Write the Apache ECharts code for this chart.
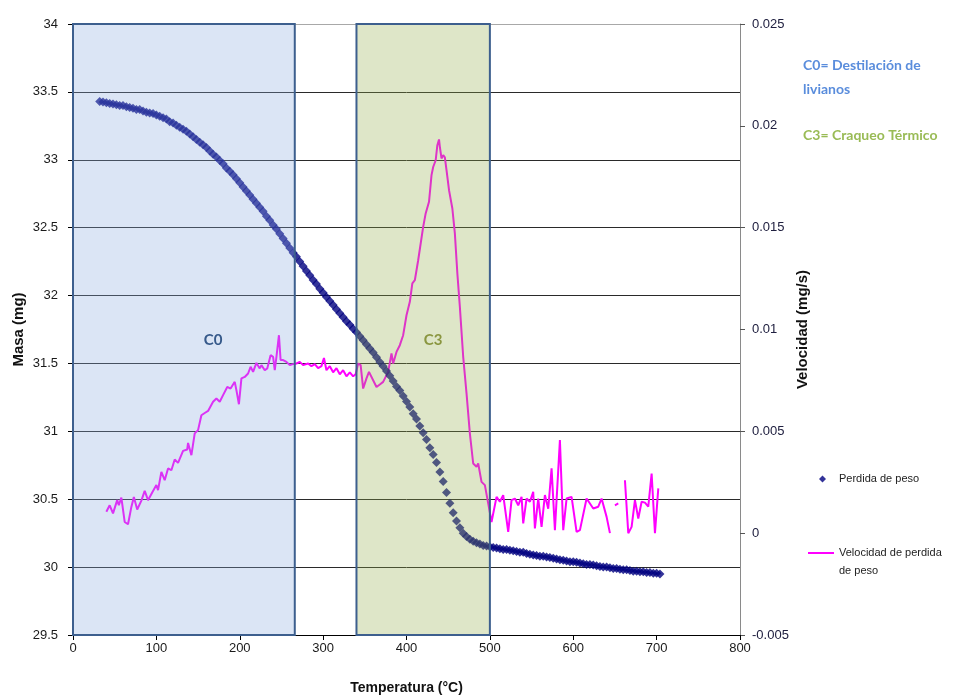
<!DOCTYPE html>
<html>
<head>
<meta charset="utf-8">
<script src="https://cdn.jsdelivr.net/npm/echarts@6/dist/echarts.min.js"></script>
<style>html,body{margin:0;padding:0;background:#fff;}#c{width:954px;height:696px;}</style>
</head>
<body>
<div id="c"></div>
<script>
// ---- Data ----
const xTicks = [0, 100, 200, 300, 400, 500, 600, 700, 800];
const massLabel = 'Perdida de peso';
const velLabel = 'Velocidad de perdida de peso';

// Mass (mg) vs temperature (°C)
const massT = [32,36,40,44,48,52,56,60,64,68,72,76,80,84,88,92,96,100,104,108,112,116,120,124,128,132,136,140,144,148,152,156,160,164,168,172,176,180,184,188,192,196,200,204,208,212,216,220,224,228,232,236,240,244,248,252,256,260,264,268,272,276,280,284,288,292,296,300,304,308,312,316,320,324,328,332,336,340,344,348,352,356,360,364,368,372,376,380,384,388,392,396,400,404,408,412,416,420,424,428,432,436,440,444,448,452,456,460,464,468,472,476,480,484,488,492,496,500,504,508,512,516,520,524,528,532,536,540,544,548,552,556,560,564,568,572,576,580,584,588,592,596,600,604,608,612,616,620,624,628,632,636,640,644,648,652,656,660,664,668,672,676,680,684,688,692,696,700,704];
const massV = [33.43,33.425,33.42,33.415,33.41,33.405,33.40,33.40,33.39,33.385,33.38,33.37,33.37,33.36,33.35,33.345,33.34,33.33,33.32,33.31,33.30,33.28,33.27,33.255,33.24,33.225,33.21,33.19,33.17,33.15,33.13,33.11,33.09,33.065,33.04,33.02,32.995,32.97,32.94,32.915,32.89,32.86,32.83,32.80,32.77,32.74,32.71,32.68,32.65,32.62,32.585,32.555,32.52,32.49,32.455,32.42,32.385,32.35,32.315,32.285,32.25,32.215,32.18,32.15,32.115,32.085,32.05,32.02,31.99,31.96,31.93,31.90,31.87,31.84,31.81,31.785,31.755,31.73,31.70,31.67,31.64,31.61,31.58,31.545,31.51,31.48,31.445,31.41,31.37,31.33,31.30,31.26,31.22,31.18,31.13,31.09,31.04,30.99,30.94,30.88,30.83,30.77,30.70,30.63,30.55,30.47,30.40,30.34,30.29,30.25,30.225,30.205,30.19,30.18,30.17,30.16,30.155,30.15,30.145,30.14,30.135,30.13,30.13,30.125,30.12,30.115,30.11,30.11,30.10,30.095,30.09,30.085,30.08,30.08,30.075,30.07,30.065,30.06,30.055,30.05,30.045,30.04,30.04,30.035,30.03,30.025,30.02,30.02,30.015,30.01,30.005,30.00,30.00,29.995,29.99,29.99,29.985,29.98,29.98,29.975,29.97,29.97,29.965,29.965,29.96,29.96,29.955,29.955,29.95];

// Rate of mass loss (mg/s) vs temperature (°C); null = gap
const velT = [40,44,48,53,55,58,62,66,70,73,77,82,86,90,95,100,102,106,110,114,118,122,126,132,137,138,142,146,150,154,158,162,168,172,176,180,185,189,194,196,199,202,206,210,213,216,220,224,226,230,233,237,240,242,244,247,249,252,256,260,264,268,272,276,282,286,290,294,298,301,304,308,312,316,320,324,328,332,336,339,342,345,348,352,355,360,364,368,372,378,382,384,388,392,396,400,404,407,410,414,420,423,427,430,432,435,437,439,440,442,444,446,448,451,455,458,461,464,468,472,476,480,484,486,490,494,498,502,504,508,512,516,522,526,530,534,538,540,544,548,552,554,558,562,566,570,574,578,584,588,592,598,604,608,616,624,630,634,640,644,646,650,654,656,662,666,670,674,678,682,686,690,694,698,702];
const velV = [0.00105,0.00137,0.00097,0.00162,0.00137,0.00175,0.00055,0.00044,0.00129,0.00178,0.00116,0.0016,0.00208,0.00162,0.0020,0.00236,0.00211,0.00301,0.0026,0.00318,0.00309,0.00362,0.00345,0.00404,0.00411,0.00443,0.00383,0.0049,0.00506,0.00579,0.0059,0.0060,0.00645,0.00661,0.00645,0.00678,0.00718,0.0071,0.00743,0.00702,0.00633,0.0076,0.00767,0.00784,0.00817,0.00792,0.00836,0.00809,0.00825,0.0080,0.00809,0.00874,0.00866,0.0080,0.00866,0.00972,0.0085,0.0085,0.00841,0.00825,0.0083,0.00833,0.00841,0.00825,0.00833,0.0082,0.0083,0.0081,0.0082,0.0086,0.0080,0.0082,0.0079,0.0081,0.0078,0.0080,0.0077,0.0079,0.0077,0.0078,0.00833,0.00825,0.0071,0.0076,0.00792,0.00751,0.00718,0.0073,0.00743,0.00792,0.00882,0.00833,0.0089,0.00923,0.00972,0.0107,0.01136,0.01226,0.01242,0.0134,0.01504,0.0157,0.01627,0.01758,0.01798,0.01831,0.01905,0.01933,0.01897,0.0184,0.01856,0.01845,0.01782,0.01684,0.01594,0.01472,0.01275,0.01111,0.00866,0.00686,0.0049,0.00342,0.00326,0.00342,0.00252,0.00236,0.00146,0.00055,0.00048,0.00178,0.00154,0.00187,0.00006,0.00162,0.0017,0.00137,0.00178,0.00048,0.0017,0.00154,0.00203,0.00023,0.0017,0.00031,0.00187,0.0012,0.00318,0.00015,0.00457,0.00015,0.0017,0.00178,0.00006,0.00015,0.0017,0.00121,0.0013,0.0017,0.0008,0.0,null,0.00137,0.00146,null,0.0026,0.0,0.00031,0.00162,0.00072,0.00154,0.0015,0.0013,0.00293,0.0,0.0022];

// Shaded stage regions (°C)
const stages = [
  {name: 'C0', from: 0, to: 266, labelT: 168, fill: 'rgba(135,168,222,0.3)', labelColor: '#36598a'},
  {name: 'C3', from: 340, to: 500, labelT: 432, fill: 'rgba(145,172,72,0.3)', labelColor: '#8a9640'}
];
const stageLabelMass = 31.67;

// ---- Chart ----
const chart = echarts.init(document.getElementById('c'), null, {renderer: 'canvas'});
const baseFont = 'Liberation Sans, Arial, sans-serif';

const massData = massT.map((t, i) => [t, massV[i]]);
const velData = velT.map((t, i) => [t, velV[i]]);

const splitColors = [];
for (let i = 0; i < 9; i++) splitColors.push('#2a2a2a');
splitColors.push('#a8a8a8');

const option = {
  animation: false,
  backgroundColor: '#ffffff',
  grid: {left: 73, right: 214, top: 24, bottom: 61, containLabel: false, outerBoundsMode: 'none'},
  xAxis: {
    type: 'value', min: 0, max: 800, interval: 100,
    name: 'Temperatura (°C)', nameLocation: 'middle', nameGap: 46,
    nameTextStyle: {fontFamily: baseFont, fontWeight: 'bold', fontSize: 14, color: '#111'},
    axisLine: {show: true, onZero: false, lineStyle: {color: '#000', width: 1}},
    axisTick: {show: true, inside: false, length: 5, lineStyle: {color: '#000'}},
    axisLabel: {fontFamily: baseFont, fontSize: 13, color: '#1a1a1a', margin: 7},
    splitLine: {show: false}
  },
  yAxis: [
    {
      type: 'value', min: 29.5, max: 34, interval: 0.5, position: 'left',
      name: 'Masa (mg)', nameLocation: 'middle', nameGap: 47, nameMoveOverlap: false,
      nameTextStyle: {fontFamily: baseFont, fontWeight: 'bold', fontSize: 15, color: '#111'},
      axisLine: {show: true, lineStyle: {color: '#000', width: 1}},
      axisTick: {show: true, inside: false, length: 5, lineStyle: {color: '#000'}},
      axisLabel: {fontFamily: baseFont, fontSize: 13, color: '#1a1a1a', margin: 15},
      splitLine: {show: true, lineStyle: {color: splitColors, width: 1}}
    },
    {
      type: 'value', min: -0.005, max: 0.025, interval: 0.005, position: 'right',
      name: 'Velocidad (mg/s)', nameLocation: 'middle', nameGap: 55, nameMoveOverlap: false,
      nameTextStyle: {fontFamily: baseFont, fontWeight: 'bold', fontSize: 15, color: '#111'},
      axisLine: {show: true, onZero: false, lineStyle: {color: '#8a8a8a', width: 1}},
      axisTick: {show: true, inside: false, length: 5, lineStyle: {color: '#555'}},
      axisLabel: {fontFamily: baseFont, fontSize: 13, color: '#202040', margin: 12,
        formatter: v => String(+v.toFixed(3))},
      splitLine: {show: false}
    }
  ],
  legend: [
    {
      data: [massLabel], left: 819, top: 473.5, orient: 'vertical', padding: 0,
      icon: 'diamond', itemWidth: 7, itemHeight: 7, selectedMode: false,
      textStyle: {fontFamily: baseFont, fontSize: 11, color: '#222', padding: [0, 0, 0, 8]}
    },
    {
      data: [velLabel], left: 808, top: 526, orient: 'vertical', padding: 0,
      icon: 'rect', itemWidth: 26, itemHeight: 2, selectedMode: false,
      formatter: () => ' \nVelocidad de perdida\nde peso',
      textStyle: {fontFamily: baseFont, fontSize: 11, color: '#222', lineHeight: 18}
    }
  ],
  graphic: [
    {type: 'text', left: 803, top: 53, silent: true,
      style: {text: 'C0= Destilación de\nlivianos', fill: '#5a8ddc', font: 'bold 14px Lato, sans-serif', lineHeight: 24}},
    {type: 'text', left: 803, top: 123, silent: true,
      style: {text: 'C3= Craqueo Térmico', fill: '#99bb55', font: 'bold 14px Lato, sans-serif', lineHeight: 24}}
  ],
  series: [
    {
      name: massLabel, type: 'scatter', xAxisIndex: 0, yAxisIndex: 0,
      data: massData, symbol: 'diamond', symbolSize: 9,
      itemStyle: {color: '#000080'}, z: 2,
      markArea: {
        silent: true, z: 4,
        data: stages.map(s => [
          {xAxis: s.from, yAxis: 29.5, itemStyle: {color: s.fill, borderColor: '#3d5f8e', borderWidth: 2}},
          {xAxis: s.to, yAxis: 34}
        ])
      },
      markPoint: {
        silent: true, symbol: 'circle', symbolSize: 1, z: 6,
        itemStyle: {color: 'rgba(0,0,0,0)'},
        data: stages.map(s => ({
          name: s.name, coord: [s.labelT, stageLabelMass],
          label: {show: true, position: 'inside', formatter: s.name, color: s.labelColor,
            fontFamily: 'Lato, sans-serif', fontSize: 15, fontWeight: 'bold'}
        }))
      }
    },
    {
      name: velLabel, type: 'line', xAxisIndex: 0, yAxisIndex: 1,
      data: velData, showSymbol: false, symbol: 'none', connectNulls: false,
      lineStyle: {color: '#ff00ff', width: 2}, itemStyle: {color: '#ff00ff'}, z: 2
    }
  ]
};
chart.setOption(option);
</script>
</body>
</html>
